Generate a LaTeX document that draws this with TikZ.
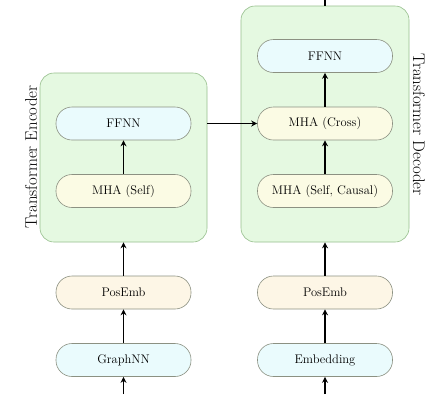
\documentclass[tikz,border=0pt]{standalone}
\usetikzlibrary{arrows.meta}
\definecolor{boxgreen}{RGB}{229,249,225}
\definecolor{boxedge}{RGB}{150,190,140}
\definecolor{nblue}{RGB}{234,251,253}
\definecolor{nyellow}{RGB}{251,251,228}
\definecolor{norange}{RGB}{253,246,230}
\definecolor{nedge}{RGB}{140,145,130}
\begin{document}
\begin{tikzpicture}[x=1pt,y=-1pt,
  blk/.style={draw=boxedge,fill=boxgreen,rounded corners=14pt,line width=0.6pt},
  capsule/.style={draw=nedge,line width=0.6pt,rounded corners=16pt,minimum width=135pt,minimum height=33pt,inner sep=0pt,font=\fontsize{12.5}{14}\selectfont},
  bl/.style={capsule,fill=nblue},
  ye/.style={capsule,fill=nyellow},
  orn/.style={capsule,fill=norange},
  arr/.style={-{Stealth[length=6pt,width=6pt]},line width=1.5pt},
  lab/.style={font=\fontsize{16.8}{19}\selectfont}]
\useasboundingbox (0,0) rectangle (435,394);
\node[blk,minimum width=167pt,minimum height=169pt] (enc) at (123.5,157.5) {};
\node[blk,minimum width=168pt,minimum height=236pt] (dec) at (325,124) {};
\node[lab,rotate=90] (encl) at (31,157) {Transformer Encoder};
\node[lab,rotate=-90] (decl) at (419,124.5) {Transformer Decoder};
\node[bl] (effnn) at (123.5,123.5) {FFNN};
\node[ye] (emha) at (123.5,191) {MHA (Self)};
\node[orn] (epos) at (123.5,292.5) {PosEmb};
\node[bl] (egnn) at (123.5,360) {GraphNN};
\node[bl] (dffnn) at (325,56) {FFNN};
\node[ye] (dcross) at (325,123.5) {MHA (Cross)};
\node[ye] (dself) at (325,191) {MHA (Self, Causal)};
\node[orn] (dpos) at (325,292.5) {PosEmb};
\node[bl] (demb) at (325,360) {Embedding};
\coordinate (ein) at (123.5,394);
\coordinate (din) at (325,394);
\coordinate (dout) at (325,0);
\draw[arr] (ein) -- (egnn);
\draw[arr] (egnn) -- (epos);
\draw[arr] (epos) -- (enc);
\draw[arr] (emha) -- (effnn);
\draw[arr] (din) -- (demb);
\draw[arr] (demb) -- (dpos);
\draw[arr] (dpos) -- (dec);
\draw[arr] (dself) -- (dcross);
\draw[arr] (dcross) -- (dffnn);
\draw[arr] (enc.east |- dcross) -- (dcross);
\draw[line width=1.5pt] (dec.north) -- (dout);
\end{tikzpicture}
\end{document}
